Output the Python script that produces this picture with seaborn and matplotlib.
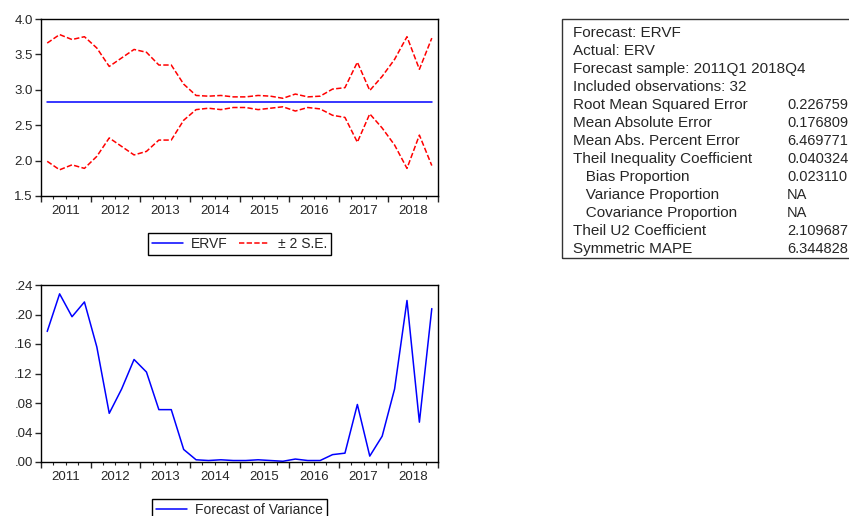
import numpy as np
import pandas as pd
import matplotlib
matplotlib.use("Agg")
import matplotlib.pyplot as plt
from matplotlib.patches import Rectangle
import seaborn as sns

# quarters 2011Q1 .. 2018Q4
years = ["2011", "2012", "2013", "2014", "2015", "2016", "2017", "2018"]
quarters = [f"{y}Q{q}" for y in years for q in range(1, 5)]

ervf = [2.83, 2.83, 2.83, 2.83, 2.83, 2.83, 2.83, 2.83,
        2.83, 2.83, 2.83, 2.83, 2.83, 2.83, 2.83, 2.83,
        2.83, 2.83, 2.83, 2.83, 2.83, 2.83, 2.83, 2.83,
        2.83, 2.83, 2.83, 2.83, 2.83, 2.83, 2.83, 2.83]

upper = [3.66, 3.78, 3.71, 3.75, 3.59, 3.33, 3.45, 3.57,
         3.53, 3.35, 3.35, 3.08, 2.92, 2.91, 2.92, 2.90,
         2.90, 2.92, 2.91, 2.88, 2.94, 2.90, 2.91, 3.01,
         3.03, 3.39, 2.99, 3.19, 3.43, 3.75, 3.29, 3.73]

lower = [1.99, 1.87, 1.94, 1.89, 2.06, 2.32, 2.20, 2.08,
         2.13, 2.29, 2.29, 2.57, 2.72, 2.74, 2.72, 2.75,
         2.75, 2.72, 2.74, 2.76, 2.70, 2.75, 2.73, 2.64,
         2.61, 2.26, 2.66, 2.46, 2.22, 1.89, 2.36, 1.93]

variance = [0.177, 0.228, 0.197, 0.217, 0.156, 0.066, 0.099, 0.139,
            0.122, 0.071, 0.071, 0.017, 0.003, 0.002, 0.003, 0.002,
            0.002, 0.003, 0.002, 0.001, 0.004, 0.002, 0.002, 0.010,
            0.012, 0.078, 0.008, 0.035, 0.099, 0.219, 0.054, 0.208]

stat_labels = ["Forecast: ERVF", "Actual: ERV", "Forecast sample: 2011Q1 2018Q4",
               "Included observations: 32", "Root Mean Squared Error",
               "Mean Absolute Error", "Mean Abs. Percent Error",
               "Theil Inequality Coefficient", "   Bias Proportion",
               "   Variance Proportion", "   Covariance Proportion",
               "Theil U2 Coefficient", "Symmetric MAPE"]
stat_values = ["", "", "", "", "0.226759", "0.176809", "6.469771", "0.040324",
               "0.023110", "NA", "NA", "2.109687", "6.344828"]

df = pd.DataFrame({"t": np.arange(len(quarters)), "ervf": ervf,
                   "upper": upper, "lower": lower, "var": variance})

sns.set_style("ticks")
plt.rcParams["font.family"] = ["Liberation Sans", "DejaVu Sans"]

W, H = 849, 516
fig = plt.figure(figsize=(W / 100, H / 100), dpi=100)


def px_axes(x0, y0, x1, y1):
    return fig.add_axes([x0 / W, 1 - y1 / H, (x1 - x0) / W, (y1 - y0) / H])


def style_x(ax):
    n = len(quarters)
    ax.set_xlim(-0.5, n - 0.5)
    ax.set_xticks(np.arange(-0.5, n, 4))
    ax.set_xticklabels([])
    ax.set_xticks(np.arange(-0.5, n, 1), minor=True)
    minor_labels = [""] * (n + 1)
    for i, y in enumerate(years):
        minor_labels[2 + 4 * i] = y
    ax.set_xticklabels(minor_labels, minor=True)
    ax.tick_params(axis="x", which="major", direction="out", length=4, width=1)
    ax.tick_params(axis="x", which="minor", direction="out", length=2.5, width=0.8,
                   labelsize=9.5, pad=4)
    ax.tick_params(axis="y", direction="out", length=4, width=1, labelsize=9.5, pad=2)
    for s in ax.spines.values():
        s.set_visible(True)
        s.set_color("black")
        s.set_linewidth(1)
    ax.set_xlabel("")
    ax.set_ylabel("")


leg_kw = dict(loc="upper center", bbox_to_anchor=(0.5, -0.167), fontsize=10,
              frameon=True, fancybox=False, edgecolor="black", framealpha=1,
              handlelength=2.2, handletextpad=0.6, columnspacing=0.8,
              borderpad=0.3)

# top panel: forecast with bands
ax1 = px_axes(41, 19, 438, 196)
sns.lineplot(data=df, x="t", y="ervf", ax=ax1, color="#0000ff", lw=1.1, label="ERVF")
sns.lineplot(data=df, x="t", y="upper", ax=ax1, color="#ff0000", lw=1.1,
             linestyle=(0, (3.5, 1.5)), label="\u00b1 2 S.E.")
sns.lineplot(data=df, x="t", y="lower", ax=ax1, color="#ff0000", lw=1.1,
             linestyle=(0, (3.5, 1.5)))
ax1.set_ylim(1.5, 4.0)
ax1.set_yticks([1.5, 2.0, 2.5, 3.0, 3.5, 4.0])
ax1.set_yticklabels(["1.5", "2.0", "2.5", "3.0", "3.5", "4.0"])
style_x(ax1)
leg1 = ax1.legend(ncol=2, **leg_kw)
leg1.get_frame().set_linewidth(1)

# bottom panel: forecast variance
ax2 = px_axes(41, 285, 438, 462)
sns.lineplot(data=df, x="t", y="var", ax=ax2, color="#0000ff", lw=1.1,
             label="Forecast of Variance")
ax2.set_ylim(0, 0.24)
yt = [0.00, 0.04, 0.08, 0.12, 0.16, 0.20, 0.24]
ax2.set_yticks(yt)
ax2.set_yticklabels([".00", ".04", ".08", ".12", ".16", ".20", ".24"])
style_x(ax2)
leg2 = ax2.legend(**leg_kw)
leg2.get_frame().set_linewidth(1)

# statistics box
fig.patches.append(Rectangle((562 / W, 1 - 258 / H), (W + 5 - 562) / W, (258 - 19) / H,
                             transform=fig.transFigure, fill=False,
                             edgecolor="#333333", lw=1))
for i, (lab, val) in enumerate(zip(stat_labels, stat_values)):
    yy = 1 - (36.7 + 18.0 * i) / H
    fig.text(573 / W, yy, lab, fontsize=11, va="baseline", ha="left")
    if val:
        fig.text(787 / W, yy, val, fontsize=10.5, va="baseline", ha="left")

fig.savefig("out.png", dpi=100)
